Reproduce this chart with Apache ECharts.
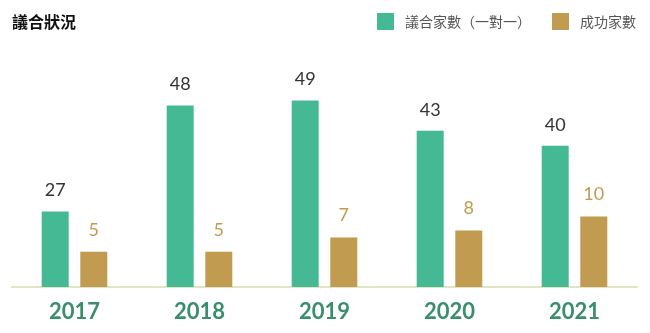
<!DOCTYPE html>
<html>
<head>
<meta charset="utf-8">
<script src="https://cdn.jsdelivr.net/npm/echarts@6/dist/echarts.min.js"></script>
<style>
html,body{margin:0;padding:0;background:#fff;}
#chart{width:650px;height:333px;}
</style>
</head>
<body>
<div id="chart"></div>
<script>
var titleText = '議合狀況';
var years = ['2017', '2018', '2019', '2020', '2021'];
var engagementName = '議合家數（一對一）';
var engagementValues = [27, 48, 49, 43, 40];
var successName = '成功家數';
var successValues = [5, 5, 7, 8, 10];

var chart = echarts.init(document.getElementById('chart'), null, {renderer: 'canvas'});
chart.setOption({
  backgroundColor: '#ffffff',
  animation: false,
  title: {
    text: titleText,
    left: 12,
    top: 14,
    padding: 0,
    textStyle: {fontFamily: '"Noto Sans CJK TC", sans-serif', fontSize: 16, fontWeight: 'bold', color: '#111'}
  },
  legend: {
    right: 14,
    top: 13,
    padding: 0,
    itemWidth: 17,
    itemHeight: 17,
    itemGap: 21,
    icon: 'rect',
    textStyle: {fontFamily: '"Noto Sans CJK TC", sans-serif', fontSize: 14, color: '#555', padding: [0, 0, 0, 6]},
    data: [engagementName, successName]
  },
  grid: {left: 12, right: 13, top: 40, bottom: 46, containLabel: false},
  xAxis: {
    type: 'category',
    data: years,
    axisTick: {show: false},
    axisLine: {lineStyle: {color: '#dfe6c6', width: 2}},
    axisLabel: {fontFamily: 'Lato, sans-serif', fontSize: 22, fontWeight: 'bold', color: '#3a8e6c', margin: 14}
  },
  yAxis: [
    {type: 'value', show: false, min: 12, max: 61},
    {type: 'value', show: false, min: 0, max: 35}
  ],
  series: [
    {
      name: engagementName,
      type: 'bar',
      yAxisIndex: 0,
      data: engagementValues,
      barWidth: 27,
      barGap: '43%',
      itemStyle: {color: '#45b894'},
      label: {show: true, position: 'top', distance: 12, fontFamily: 'Lato, sans-serif', fontSize: 18, color: '#333'}
    },
    {
      name: successName,
      type: 'bar',
      yAxisIndex: 1,
      data: successValues,
      barWidth: 27,
      barGap: '43%',
      itemStyle: {color: '#c19b4f'},
      label: {show: true, position: 'top', distance: 13, fontFamily: 'Lato, sans-serif', fontSize: 18, color: '#c19b4f'}
    }
  ]
});
</script>
</body>
</html>
